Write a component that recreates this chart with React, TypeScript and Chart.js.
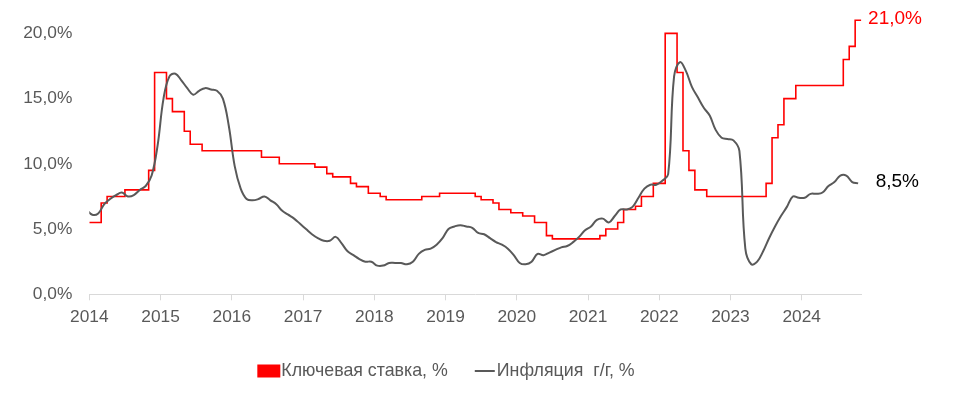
import React, { useEffect, useRef } from "react";
import { Chart, registerables } from "chart.js";

Chart.register(...registerables);

const FONT = "'Liberation Sans', Arial, sans-serif";
const RED = "#FF0000";
const LINE_GRAY = "#595959";
const TEXT_GRAY = "#595959";
const AXIS_GRAY = "#D9D9D9";

// ---- axis labels ----
const yearLabels = ["2014", "2015", "2016", "2017", "2018", "2019", "2020", "2021", "2022", "2023", "2024"];
const percentTicks = [0, 5, 10, 15, 20];
const seriesNames = ["Ключевая ставка, %", "Инфляция  г/г, %"];

// ---- key rate: month from which a new rate applies, and the rate (%) ----
const keyRateMonths = [
  "2014-01", "2014-03", "2014-04", "2014-07", "2014-11", "2014-12",
  "2015-02", "2015-03", "2015-05", "2015-06", "2015-08",
  "2016-06", "2016-09",
  "2017-03", "2017-05", "2017-06", "2017-09", "2017-10", "2017-12",
  "2018-02", "2018-03", "2018-09", "2018-12",
  "2019-06", "2019-07", "2019-09", "2019-10", "2019-12",
  "2020-02", "2020-04", "2020-06", "2020-07",
  "2021-03", "2021-04", "2021-06", "2021-07", "2021-09", "2021-10", "2021-12",
  "2022-02", "2022-04", "2022-05", "2022-06", "2022-07", "2022-09",
  "2023-07", "2023-08", "2023-09", "2023-10", "2023-12",
  "2024-08", "2024-09", "2024-10", "2024-11",
];
const keyRateValues = [
  5.5, 7.0, 7.5, 8.0, 9.5, 17.0,
  15.0, 14.0, 12.5, 11.5, 11.0,
  10.5, 10.0,
  9.75, 9.25, 9.0, 8.5, 8.25, 7.75,
  7.5, 7.25, 7.5, 7.75,
  7.5, 7.25, 7.0, 6.5, 6.25,
  6.0, 5.5, 4.5, 4.25,
  4.5, 5.0, 5.5, 6.5, 6.75, 7.5, 8.5,
  20.0, 17.0, 11.0, 9.5, 8.0, 7.5,
  8.5, 12.0, 13.0, 15.0, 16.0,
  18.0, 19.0, 21.0, 21.0,
];

// ---- inflation y/y (%), monthly ----
const inflationFirstMonth = "2013-12";
const inflation2013 = [6.5];
const inflation2014 = [6.1, 6.2, 6.9, 7.3, 7.6, 7.8, 7.5, 7.6, 8.0, 8.3, 9.1, 11.4];
const inflation2015 = [15.0, 16.7, 16.9, 16.4, 15.8, 15.3, 15.6, 15.8, 15.7, 15.6, 15.0, 12.9];
const inflation2016 = [9.8, 8.1, 7.3, 7.2, 7.3, 7.5, 7.2, 6.9, 6.4, 6.1, 5.8, 5.4];
const inflation2017 = [5.0, 4.6, 4.3, 4.1, 4.1, 4.4, 3.9, 3.3, 3.0, 2.7, 2.5, 2.5];
const inflation2018 = [2.2, 2.2, 2.4, 2.4, 2.4, 2.3, 2.5, 3.1, 3.4, 3.5, 3.8, 4.3];
const inflation2019 = [5.0, 5.2, 5.3, 5.2, 5.1, 4.7, 4.6, 4.3, 4.0, 3.8, 3.5, 3.0];
const inflation2020 = [2.4, 2.3, 2.5, 3.1, 3.0, 3.2, 3.4, 3.6, 3.7, 4.0, 4.4, 4.9];
const inflation2021 = [5.2, 5.7, 5.8, 5.5, 6.0, 6.5, 6.5, 6.7, 7.4, 8.1, 8.4, 8.4];
const inflation2022 = [8.7, 9.2, 16.7, 17.8, 17.1, 15.9, 15.1, 14.3, 13.7, 12.6, 12.0, 11.9];
const inflation2023 = [11.8, 11.0, 3.5, 2.3, 2.5, 3.3, 4.3, 5.2, 6.0, 6.7, 7.5, 7.4];
const inflation2024 = [7.4, 7.7, 7.7, 7.8, 8.3, 8.6, 9.1, 9.1, 8.6, 8.5];

const AXIS_START = "2014-01";
const AXIS_END = "2024-11";

function monthIndex(s: string): number {
  const [y, m] = s.split("-").map(Number);
  return (y - 2014) * 12 + (m - 1);
}

function fmtPct(v: number): string {
  return v.toFixed(1).replace(".", ",") + "%";
}

const endLabelsPlugin = {
  id: "endLabels",
  afterDatasetsDraw(chart: any) {
    const ctx = chart.ctx;
    ctx.save();
    ctx.font = `19px ${FONT}`;
    ctx.textAlign = "left";
    ctx.textBaseline = "middle";
    const specs = [
      { idx: 0, color: RED, dx: 7, dy: -1.5 },
      { idx: 1, color: "#000000", dx: 17.5, dy: -1.5 },
    ];
    for (const s of specs) {
      const meta = chart.getDatasetMeta(s.idx);
      const ds = chart.data.datasets[s.idx].data as any[];
      const last = meta.data[meta.data.length - 1];
      const v = ds[ds.length - 1].y;
      ctx.fillStyle = s.color;
      ctx.fillText(fmtPct(v), last.x + s.dx, last.y + s.dy);
    }
    ctx.restore();
  },
};

const legendPlugin = {
  id: "customLegend",
  afterDraw(chart: any) {
    const ctx = chart.ctx;
    ctx.save();
    ctx.font = `17.8px ${FONT}`;
    ctx.textBaseline = "middle";
    ctx.textAlign = "left";
    const w1 = ctx.measureText(seriesNames[0]).width;
    const w2 = ctx.measureText(seriesNames[1]).width;
    const boxW = 23, boxH = 13, gap1 = 1, spacing = 27, lineW = 20, gap2 = 2;
    const total = boxW + gap1 + w1 + spacing + lineW + gap2 + w2;
    const centerX = 446;
    const cy = 371;
    let x = centerX - total / 2;
    ctx.fillStyle = RED;
    ctx.fillRect(x, cy - boxH / 2, boxW, boxH);
    x += boxW + gap1;
    ctx.fillStyle = TEXT_GRAY;
    ctx.fillText(seriesNames[0], x, cy);
    x += w1 + spacing;
    ctx.strokeStyle = LINE_GRAY;
    ctx.lineWidth = 2;
    ctx.beginPath();
    ctx.moveTo(x, cy);
    ctx.lineTo(x + lineW, cy);
    ctx.stroke();
    x += lineW + gap2;
    ctx.fillStyle = TEXT_GRAY;
    ctx.fillText(seriesNames[1], x, cy);
    ctx.restore();
  },
};

export default function App() {
  const canvasRef = useRef<HTMLCanvasElement | null>(null);

  useEffect(() => {
    if (!canvasRef.current) return;

    const keyRatePoints = keyRateMonths.map((m, i) => ({ x: monthIndex(m), y: keyRateValues[i] }));
    const inflationAll = [
      ...inflation2013, ...inflation2014, ...inflation2015, ...inflation2016,
      ...inflation2017, ...inflation2018, ...inflation2019, ...inflation2020,
      ...inflation2021, ...inflation2022, ...inflation2023, ...inflation2024,
    ];
    const inflStart = monthIndex(inflationFirstMonth);
    const inflationPoints = inflationAll.map((v, i) => ({ x: inflStart + i + 0.5, y: v }));

    const chart = new Chart(canvasRef.current, {
      type: "line",
      data: {
        datasets: [
          {
            label: seriesNames[0],
            data: keyRatePoints,
            borderColor: RED,
            backgroundColor: RED,
            borderWidth: 1.6,
            stepped: "before",
            pointRadius: 0,
            fill: false,
            clip: { left: 0, right: 2, top: 5, bottom: 2 },
            order: 2,
          } as any,
          {
            label: seriesNames[1],
            data: inflationPoints,
            borderColor: LINE_GRAY,
            backgroundColor: LINE_GRAY,
            borderWidth: 2,
            tension: 0.4,
            pointRadius: 0,
            fill: false,
            clip: { left: 0, right: 2, top: 5, bottom: 2 },
            order: 1,
          } as any,
        ],
      },
      options: {
        animation: false,
        responsive: true,
        maintainAspectRatio: false,
        events: [],
        layout: { padding: { left: 0, right: 97.9, top: 20.3, bottom: 63.7 } },
        plugins: {
          legend: { display: false },
          tooltip: { enabled: false },
        },
        scales: {
          x: {
            type: "linear",
            min: monthIndex(AXIS_START),
            max: monthIndex(AXIS_END),
            afterBuildTicks: (scale: any) => {
              scale.ticks = yearLabels.map((_, i) => ({ value: i * 12 }));
            },
            afterFit: (scale: any) => {
              scale.height = 40;
              scale.paddingLeft = 0;
              scale.paddingRight = 0;
            },
            grid: {
              display: true,
              drawOnChartArea: false,
              drawTicks: true,
              tickLength: 6,
              color: AXIS_GRAY,
              lineWidth: 1,
            },
            border: { display: true, color: AXIS_GRAY, width: 1 },
            ticks: {
              autoSkip: false,
              maxRotation: 0,
              padding: 6.5,
              color: TEXT_GRAY,
              font: { family: FONT, size: 17.33 },
              callback: (value: any) => yearLabels[Math.round(Number(value) / 12)] ?? "",
            },
          },
          y: {
            type: "linear",
            min: 0,
            max: 21,
            afterBuildTicks: (scale: any) => {
              scale.ticks = percentTicks.map((v) => ({ value: v }));
            },
            afterFit: (scale: any) => {
              scale.width = 89.3;
              scale.paddingTop = 0;
              scale.paddingBottom = 0;
            },
            grid: { display: false, drawTicks: false },
            border: { display: false },
            ticks: {
              padding: 17,
              color: TEXT_GRAY,
              font: { family: FONT, size: 17.33 },
              callback: (value: any) => fmtPct(Number(value)),
            },
          },
        },
      },
      plugins: [endLabelsPlugin, legendPlugin],
    });

    return () => chart.destroy();
  }, []);

  return (
    <div style={{ position: "absolute", left: 0, top: 0, width: 959, height: 398, background: "#fff" }}>
      <canvas ref={canvasRef} />
    </div>
  );
}
